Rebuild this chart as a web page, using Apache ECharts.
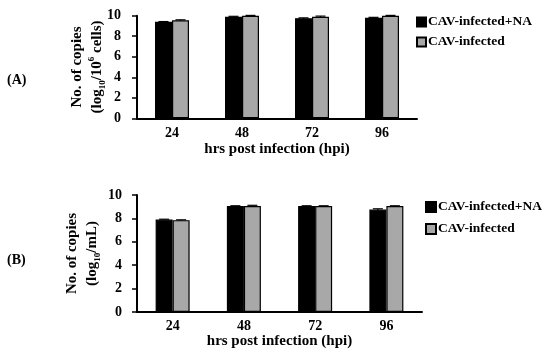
<!DOCTYPE html>
<html>
<head>
<meta charset="utf-8">
<script src="https://cdn.jsdelivr.net/npm/echarts@6/dist/echarts.min.js"></script>
<style>html,body{margin:0;padding:0;background:#fff}#c{width:550px;height:355px}</style>
</head>
<body>
<div id="c"></div>
<script>
const categories = ['24', '48', '72', '96'];
const seriesNames = ['CAV-infected+NA', 'CAV-infected'];
const yTicks = [0, 2, 4, 6, 8, 10];
// Panel A: log10/10^6 cells
const aNA = [9.4, 9.9, 9.75, 9.8];
const aInf = [9.55, 10.0, 9.9, 10.0];
const aNAErr = [0.03, 0.04, 0.04, 0.04];
const aInfErr = [0.05, 0.03, 0.06, 0.03];
// Panel B: log10/mL
const bNA = [7.9, 9.05, 9.05, 8.75];
const bInf = [7.85, 9.05, 9.05, 9.05];
const bNAErr = [0.03, 0.03, 0.03, 0.07];
const bInfErr = [0.03, 0.07, 0.03, 0.03];

const FONT = 'Liberation Serif';
const chart = echarts.init(document.getElementById('c'));
const BW = 17;

function errSeries(vals, errs, gi, side) {
  return {
    type: 'custom', xAxisIndex: gi, yAxisIndex: gi, silent: true, z: 5,
    data: vals.map((v, i) => [i, v, errs[i]]),
    encode: { x: 0, y: 1 },
    renderItem: function (params, api) {
      const i = api.value(0), v = api.value(1), e = api.value(2);
      const top = api.coord([i, v + e]);
      const bot = api.coord([i, v - e]);
      const x = top[0] + side * BW / 2;
      return { type: 'group', children: [
        { type: 'line', shape: { x1: x, y1: top[1], x2: x, y2: bot[1] }, style: { stroke: '#000', lineWidth: 1.2 } },
        { type: 'line', shape: { x1: x - 5, y1: top[1], x2: x + 5, y2: top[1] }, style: { stroke: '#000', lineWidth: 1.2 } }
      ]};
    }
  };
}

function barSeries(name, vals, gi, color) {
  return {
    name: name, type: 'bar', xAxisIndex: gi, yAxisIndex: gi,
    data: vals, barWidth: BW, barGap: '0%',
    itemStyle: { color: color, borderColor: '#000', borderWidth: 1.2 }
  };
}

function xAx(gi, margin) {
  return {
    type: 'category', gridIndex: gi, data: categories,
    axisLine: { lineStyle: { color: '#000', width: 2 } },
    axisTick: { alignWithLabel: true, length: 5, lineStyle: { color: '#000', width: 1.5 } },
    axisLabel: { color: '#000', fontFamily: FONT, fontWeight: 'bold', fontSize: 14, margin: margin },
    name: 'hrs post infection (hpi)', nameLocation: 'middle', nameGap: 16,
    nameTextStyle: { color: '#000', fontFamily: FONT, fontWeight: 'bold', fontSize: 15 }
  };
}

function yAx(gi, unitRich, gap, margin) {
  return {
    type: 'value', gridIndex: gi, min: 0, max: 10, interval: 2,
    axisLine: { show: true, lineStyle: { color: '#000', width: 2 } },
    axisTick: { show: true, length: 5, lineStyle: { color: '#000', width: 1.5 } },
    splitLine: { show: false },
    axisLabel: { color: '#000', fontFamily: FONT, fontWeight: 'bold', fontSize: 14, margin: margin,
      formatter: v => yTicks.includes(v) ? String(v) : '' },
    name: unitRich, nameLocation: 'middle', nameGap: gap, nameMoveOverlap: false,
    nameTextStyle: { color: '#000', fontFamily: FONT, fontWeight: 'bold', fontSize: 15, lineHeight: 20,
      rich: {
        n: { fontFamily: FONT, fontWeight: 'bold', fontSize: 15, color: '#000', lineHeight: 20 },
        sub: { fontFamily: FONT, fontWeight: 'bold', fontSize: 9, color: '#000', verticalAlign: 'bottom', lineHeight: 20, padding: [6, 0, 0, 0] },
        sup: { fontFamily: FONT, fontWeight: 'bold', fontSize: 9, color: '#000', verticalAlign: 'top', lineHeight: 20, padding: [0, 0, 6, 0] }
      } }
  };
}

function legend(left, top, gap, size) {
  return {
    left: left, top: top, orient: 'vertical', itemWidth: size, itemHeight: size, itemGap: gap,
    data: seriesNames, icon: 'rect', selectedMode: false,
    textStyle: { color: '#000', fontFamily: FONT, fontWeight: 'bold', fontSize: 13.5, padding: [0, 0, 0, -3] }
  };
}

chart.setOption({
  animation: false,
  backgroundColor: '#fff',
  grid: [
    { left: 137, top: 15.7, width: 280, height: 102.6 },
    { left: 137, top: 195, width: 285, height: 117 }
  ],
  xAxis: [xAx(0, 8), xAx(1, 7)],
  yAxis: [
    yAx(0, '{n|No. of copies}\n{n|(log}{sub|10}{n|/10}{sup|6}{n| cells)}', 30, 16),
    yAx(1, '{n|No. of copies}\n{n|(log}{sub|10}{n|/mL)}', 35, 15)
  ],
  legend: [legend(411, 10, 6, 9), legend(420, 195, 8, 10)],
  graphic: [
    { type: 'text', left: 7, top: 73, style: { text: '(A)', font: 'bold 14px "Liberation Serif"', fill: '#000' } },
    { type: 'text', left: 7, top: 253, style: { text: '(B)', font: 'bold 14px "Liberation Serif"', fill: '#000' } }
  ],
  series: [
    barSeries(seriesNames[0], aNA, 0, '#000'),
    barSeries(seriesNames[1], aInf, 0, '#a8a8a8'),
    barSeries(seriesNames[0], bNA, 1, '#000'),
    barSeries(seriesNames[1], bInf, 1, '#a8a8a8'),
    errSeries(aNA, aNAErr, 0, -1),
    errSeries(aInf, aInfErr, 0, 1),
    errSeries(bNA, bNAErr, 1, -1),
    errSeries(bInf, bInfErr, 1, 1)
  ]
});
</script>
</body>
</html>
